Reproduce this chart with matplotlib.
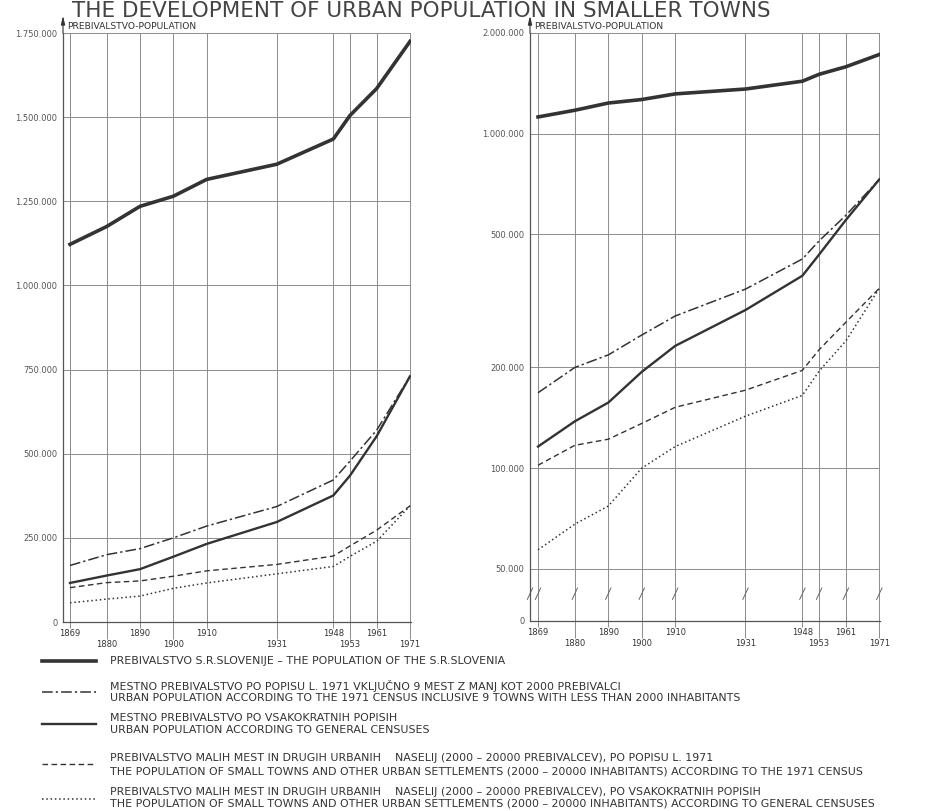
import matplotlib
matplotlib.use("Agg")
import matplotlib.pyplot as plt
from matplotlib.ticker import NullLocator

# census years and the five series
years = [1869, 1880, 1890, 1900, 1910, 1931, 1948, 1953, 1961, 1971]
total_pop = [1122000, 1175000, 1235000, 1265000, 1315000, 1360000, 1435000, 1505000, 1585000, 1725000]
urban_1971 = [168000, 200000, 218000, 250000, 285000, 343000, 422000, 478000, 570000, 730000]
urban_general = [116000, 138000, 157000, 194000, 232000, 297000, 376000, 435000, 552000, 730000]
small_1971 = [102000, 117000, 122000, 136000, 152000, 171000, 196000, 226000, 273000, 345000]
small_general = [57000, 68000, 77000, 100000, 116000, 143000, 165000, 195000, 240000, 345000]

upper_years = [1869, 1890, 1910, 1948, 1961]
lower_years = [1880, 1900, 1931, 1953, 1971]

lin_ticks = [0, 250000, 500000, 750000, 1000000, 1250000, 1500000, 1750000]
lin_labels = ["0", "250.000", "500.000", "750.000", "1.000.000", "1.250.000", "1.500.000", "1.750.000"]
log_floor = 34900   # value where the broken log axis shows "0"
log_ticks = [log_floor, 50000, 100000, 200000, 500000, 1000000, 2000000]
log_labels = ["0", "50.000", "100.000", "200.000", "500.000", "1.000.000", "2.000.000"]

title = "THE DEVELOPMENT OF URBAN POPULATION IN SMALLER TOWNS"
axis_title = "PREBIVALSTVO-POPULATION"

legend_rows = [
    ["PREBIVALSTVO S.R.SLOVENIJE \u2013 THE POPULATION OF THE S.R.SLOVENIA"],
    ["MESTNO PREBIVALSTVO PO POPISU L. 1971 VKLJUČNO 9 MEST Z MANJ KOT 2000 PREBIVALCI",
     "URBAN POPULATION ACCORDING TO THE 1971 CENSUS INCLUSIVE 9 TOWNS WITH LESS THAN 2000 INHABITANTS"],
    ["MESTNO PREBIVALSTVO PO VSAKOKRATNIH POPISIH",
     "URBAN POPULATION ACCORDING TO GENERAL CENSUSES"],
    ["PREBIVALSTVO MALIH MEST IN DRUGIH URBANIH    NASELIJ (2000 \u2013 20000 PREBIVALCEV), PO POPISU L. 1971",
     "THE POPULATION OF SMALL TOWNS AND OTHER URBAN SETTLEMENTS (2000 \u2013 20000 INHABITANTS) ACCORDING TO THE 1971 CENSUS"],
    ["PREBIVALSTVO MALIH MEST IN DRUGIH URBANIH    NASELIJ (2000 \u2013 20000 PREBIVALCEV), PO VSAKOKRATNIH POPISIH",
     "THE POPULATION OF SMALL TOWNS AND OTHER URBAN SETTLEMENTS (2000 \u2013 20000 INHABITANTS) ACCORDING TO GENERAL CENSUSES"],
]

ink = '#333333'
grid_c = '#8c8c8c'
label_c = '#555555'
font = ['DejaVu Sans Condensed', 'DejaVu Sans']
plt.rcParams['font.family'] = font

series = [
    (total_pop, dict(lw=2.6, ls='-')),
    (urban_1971, dict(lw=1.1, ls=(0, (7, 2, 1.5, 2)))),
    (urban_general, dict(lw=1.7, ls='-')),
    (small_1971, dict(lw=1.0, ls=(0, (4, 2.5)))),
    (small_general, dict(lw=1.1, ls=(0, (1, 1.8)))),
]

W, H = 932, 811
fig = plt.figure(figsize=(W / 100, H / 100), dpi=100)


def px_axes(x0, y0, x1, y1):
    return fig.add_axes([x0 / W, 1 - y1 / H, (x1 - x0) / W, (y1 - y0) / H])


def style(ax, xl, xr):
    ax.set_xlim(xl, xr)
    ax.set_xticks(upper_years)
    ax.set_xticklabels([str(y) for y in upper_years])
    ax.set_xticks(lower_years, minor=True)
    ax.set_xticklabels([str(y) for y in lower_years], minor=True)
    ax.yaxis.set_minor_locator(NullLocator())
    ax.tick_params(axis='x', which='major', length=4, width=0.7, color=grid_c,
                   pad=1, labelsize=6, labelcolor=ink)
    ax.tick_params(axis='x', which='minor', length=12, width=0.7, color=grid_c,
                   pad=1, labelsize=6, labelcolor=ink)
    ax.tick_params(axis='y', length=0, pad=4, labelsize=6, labelcolor=label_c)
    ax.grid(True, which='both', axis='x', color=grid_c, lw=0.7)
    ax.grid(True, which='major', axis='y', color=grid_c, lw=0.7)
    ax.set_axisbelow(True)
    for s in ['top', 'right']:
        ax.spines[s].set_visible(False)
    for s in ['left', 'bottom']:
        ax.spines[s].set_color('#555555')
        ax.spines[s].set_linewidth(0.9)
    # arrow at the top of the y axis
    ax.annotate('', xy=(0, 1.034), xytext=(0, 0.995), xycoords='axes fraction',
                arrowprops=dict(arrowstyle='-|>,head_length=0.5,head_width=0.12',
                                color=ink, lw=0.8), annotation_clip=False)
    ax.text(0.012, 1.011, axis_title, transform=ax.transAxes, fontsize=6.6,
            color=ink, va='center', ha='left')


# left chart: linear scale
ax1 = px_axes(63, 33, 411, 622)
for vals, kw in series:
    ax1.plot(years, vals, color=ink, **kw)
ax1.set_ylim(0, 1750000)
ax1.set_yticks(lin_ticks)
ax1.set_yticklabels(lin_labels)
style(ax1, 1866.9, 1971.3)

# right chart: logarithmic scale with a broken bottom
ax2 = px_axes(530, 33, 880, 621)
for vals, kw in series:
    ax2.plot(years, vals, color=ink, **kw)
ax2.set_yscale('log')
ax2.set_ylim(log_floor, 2000000)
ax2.set_yticks(log_ticks)
ax2.set_yticklabels(log_labels)
style(ax2, 1866.6, 1971.2)
for x in [1866.6] + years:
    ax2.plot([x - 0.8, x + 0.8], [40500, 43800], color='#666666', lw=0.7,
             clip_on=False)

# title along the top edge
fig.text(72 / W, 1 - 1 / H, title, fontsize=15.5, color='#444444', ha='left',
         va='top', family=['DejaVu Sans'])

# legend drawn in pixel coordinates
lg = fig.add_axes([0, 0, 1, 1])
lg.set_xlim(0, W)
lg.set_ylim(H, 0)
lg.axis('off')
sample_y = [661, 692, 724, 764, 799]
text_y = [[661], [686, 698], [718, 730], [758, 771], [792, 804]]
for (vals, kw), sy, rows, ty in zip(series, sample_y, legend_rows, text_y):
    lg.plot([42, 96], [sy, sy], color=ink, **kw)
    for line, y in zip(rows, ty):
        lg.text(110, y, line, fontsize=7.9, color=ink, va='center', ha='left',
                family=['DejaVu Sans'])

fig.savefig('out.png', dpi=100)
